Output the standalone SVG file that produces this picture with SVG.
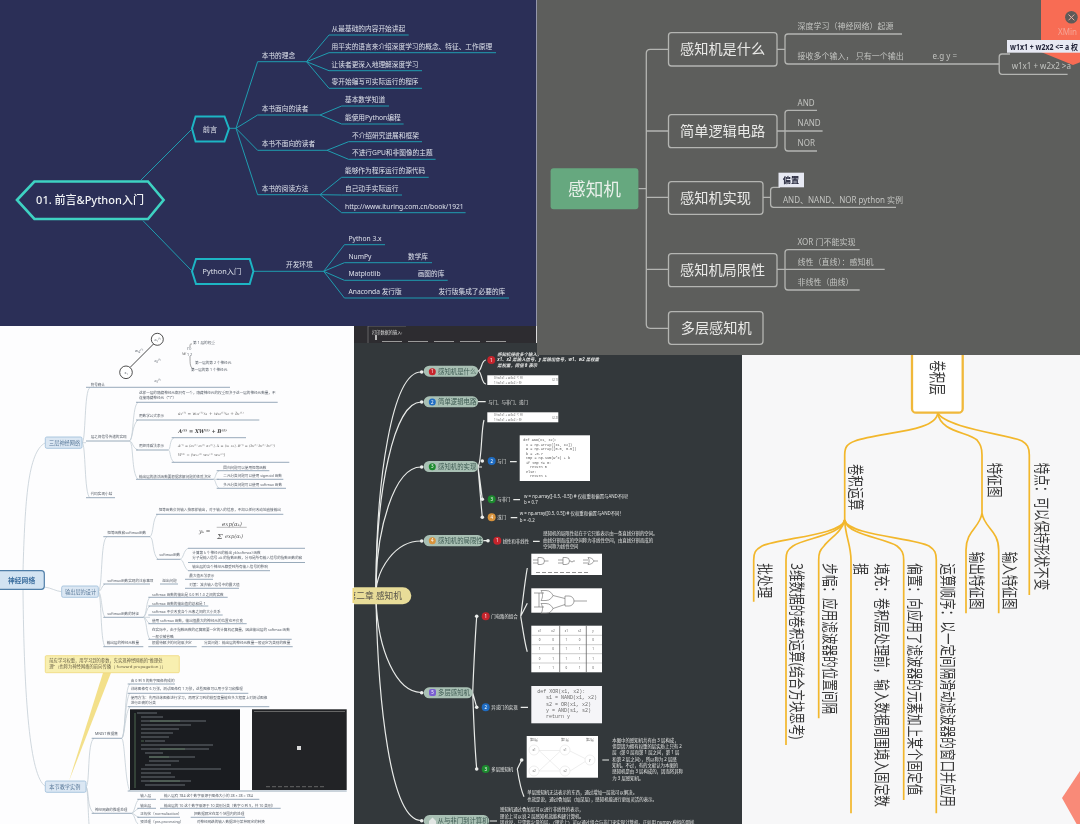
<svg xmlns="http://www.w3.org/2000/svg" width="1080" height="824" viewBox="0 0 1080 824">
<defs>
<filter id="soft" filterUnits="userSpaceOnUse" x="-6" y="-6" width="1092" height="836" color-interpolation-filters="sRGB"><feGaussianBlur stdDeviation="0.35"/></filter>
<style>
text{font-family:"Noto Sans","Noto Sans CJK SC",sans-serif}
.m{font-family:"Liberation Mono","Noto Sans CJK SC",monospace}
.sf{font-family:"DejaVu Serif","Noto Sans CJK SC",serif;font-style:italic}
.c1{fill:none;stroke:#1f9db0;stroke-width:1}
.t1{fill:#dde1ea;font-size:6.7px}
.hex{fill:#2b2f57;stroke:#1db5c4;stroke-width:2}
.c2{fill:none;stroke:#b4b5b2;stroke-width:1.3}
.box2{fill:#5d5e5c;stroke:#b4b5b2;stroke-width:1.3}
.t2h{fill:#e9e9e7;font-size:14.2px}
.t2{fill:#c3c4c1;font-size:8px}
.tag{fill:#e7e9f3}
.tagt{fill:#23253a;font-size:8.2px;font-weight:700}
.c3{fill:none;stroke:#c4ced6;stroke-width:.8}
.u3{fill:none;stroke:#7d94a8;stroke-width:.8}
.t3{fill:#555c66;font-size:3.6px}
.n3{fill:#dbe7f3;stroke:#a4c2dc;stroke-width:.9}
.t3h{fill:#5a7a9a;font-size:5.2px}
.c4{fill:none;stroke:#e9ebe9;stroke-width:1.2}
.dot{fill:#eceeec}
.pill{fill:#a9c0b4}
.t4h{fill:#3d5a52;font-size:6.4px}
.t4{fill:#e6e7e6;font-size:4.4px}
.no{fill:#fff;font-size:4.5px;text-anchor:middle}
.img{fill:#fff}
.gl{fill:none;stroke:#666;stroke-width:.6}
.c5{fill:none;stroke:#f2b72c;stroke-width:1.7}
.t5{fill:#3a3a3a;font-size:11.6px}
</style>
</defs>
<g id="all" filter="url(#soft)">
<g id="panel-perceptron-bg"><rect x="354" y="326" width="388" height="504" fill="#33383b"/><rect x="354" y="326" width="183" height="17" fill="#2d2c30"/><path d="M368 326V343M368 326H406" fill="none" stroke="#8a8a8a" stroke-width=".6"/><path d="M536.600 326V343" stroke="#eee" stroke-width="1"/><path d="M382 341.500H512" stroke="#9a9a9a" stroke-width="1" stroke-dasharray="20 6"/><path d="M376 335v5" stroke="#ddd" stroke-width="1.600"/><text x="372" y="334" fill="#ddd" font-size="4.200">打印数据的输入:</text></g>

<g id="p4-connectors">
<path class="c4" d="M376 590C376 480 392 372 421 372"/>
<path class="c4" d="M376 590C376 490 394 402 421 402"/>
<path class="c4" d="M376 590C376 530 394 467 421 467"/>
<path class="c4" d="M376 590C378 570 394 541 421 541"/>
<path class="c4" d="M376 600C378 650 396 692 421 692.500"/>
<path class="c4" d="M376 600C378 700 390 820 421 820.500"/>
<path class="c4" d="M478 371C482 371 481 360 486 360M478 371C482 371 481 384 486 384"/>
<path class="c4" d="M478 401.700H485.700M478 467C482 460 481 430 484 420M478 467H482M478 467C480 480 481 490 482.300 499M478 467C480 490 481 505 482.300 517"/>
<path class="c4" d="M510 461.700H516.700M513.300 499.700H520M510.700 517.700H517.300M483.300 540.700H488M533 541.300H539.700"/>
<path class="c4" d="M472.700 692.700C474 660 475 640 476.700 616.300M472.700 692.700L476.700 707.300M472.700 692.700C474 730 475 750 476.700 769"/>
<path class="c4" d="M520.700 616.300C523 600 525 580 527.300 568M520.700 616.300L527.300 603.300M520.700 616.300C523 630 525 645 527.300 651.700"/>
<path class="c4" d="M520.700 707.300H528M517.300 769L521.700 760M517.300 769C519 780 521 790 524 796.700M602.300 760H609M490 821H497"/>
</g>

<g id="n4-1"><rect class="pill" x="423.700" y="365.700" width="54.500" height="11" rx="5.500"/><circle cx="421.700" cy="372" r="1.800" class="dot"/><circle cx="432.300" cy="371.700" r="3.500" fill="#c6242c"/><text class="no" x="432.300" y="373.300">1</text><text class="t4h" x="438" y="373.600">感知机是什么</text></g>
<g id="n4-2"><rect class="pill" x="423.700" y="396.300" width="54.500" height="11" rx="5.500"/><circle cx="421.700" cy="402" r="1.800" class="dot"/><circle cx="432.300" cy="402" r="3.500" fill="#1f6cc2"/><text class="no" x="432.300" y="403.600">2</text><text class="t4h" x="438" y="404.200">简单逻辑电路</text></g>
<g id="n4-3"><rect class="pill" x="423.700" y="461" width="54.500" height="11" rx="5.500"/><circle cx="421.700" cy="467" r="1.800" class="dot"/><circle cx="432.300" cy="466.700" r="3.500" fill="#1c8a2e"/><text class="no" x="432.300" y="468.300">3</text><text class="t4h" x="438" y="468.900">感知机的实现</text></g>
<g id="n4-4"><rect class="pill" x="423.700" y="535" width="59.600" height="11.300" rx="5.600"/><circle cx="421.700" cy="541" r="1.800" class="dot"/><circle cx="432.300" cy="540.700" r="3.500" fill="#d8933c"/><text class="no" x="432.300" y="542.300">4</text><text class="t4h" x="438" y="543">感知机的局限性</text></g>
<g id="n4-5"><rect class="pill" x="423.700" y="687.300" width="49" height="11" rx="5.500"/><circle cx="421.700" cy="692.700" r="1.800" class="dot"/><rect x="429" y="689" width="7" height="7" rx="2" fill="#7a5fd0"/><text class="no" x="432.500" y="694">5</text><text class="t4h" x="438" y="695">多层感知机</text></g>
<g id="n4-6"><rect class="pill" x="423.700" y="815" width="65.600" height="11.700" rx="5.800"/><circle cx="421.700" cy="820.700" r="1.800" class="dot"/><path d="M429 821l3.500-3.500 3.500 3.500v3.500h-7z" fill="#e2e6e4"/><text class="t4h" x="437.500" y="822.800">从与非门到计算机</text></g>
<g id="n4-root"><rect x="340" y="587.300" width="71.300" height="17" rx="8.500" fill="#e8dc98"/><text x="402" y="599" text-anchor="end" fill="#55524a" font-size="8.700">第二章 感知机</text></g>

<g id="n4-1a"><circle cx="491.300" cy="360" r="4" fill="#c6242c"/><text class="no" x="491.300" y="361.600">1</text><text class="t4" font-style="italic" font-weight="700" x="497.300" y="355.700">感知机接收多个输入，</text><text class="t4" font-style="italic" font-weight="700" x="497.300" y="361.300">x1、x2 是输入信号，y 是输出信号，w1、w2 是权重</text><text class="t4" font-style="italic" font-weight="700" x="497.300" y="367">是权重，阈值 θ 表示</text></g>
<g id="n4-1b"><rect class="img" x="487.300" y="375.300" width="71" height="9.700"/><text x="494" y="379" font-size="3" fill="#666">0 (w1x1 + w2x2 ≤ θ)</text><text x="494" y="383.600" font-size="3" fill="#666">1 (w1x1 + w2x2 &gt; θ)</text><text x="552" y="381" font-size="3" fill="#666">(2.1)</text></g>
<g id="n4-2a"><text class="t4" x="488.300" y="403.500">与门、与非门、或门</text></g>
<g id="n4-3x"><rect class="img" x="487.300" y="412.300" width="71" height="10"/><text x="494" y="416.300" font-size="3" fill="#666">0 (w1x1 + w2x2 ≤ θ)</text><text x="494" y="420.800" font-size="3" fill="#666">1 (w1x1 + w2x2 &gt; θ)</text><text x="552" y="418.500" font-size="3" fill="#666">(2.2)</text></g>
<g id="n4-3a"><circle cx="482.300" cy="461" r="1.800" class="dot"/><circle cx="491.700" cy="461" r="4" fill="#1f6cc2"/><text class="no" x="491.700" y="462.600">2</text><text class="t4" x="497.300" y="463">与门</text></g>
<g id="n4-3b"><rect class="img" x="519.700" y="435.300" width="70.300" height="45.700"/><g fill="#555" font-size="3.500"><text class="m" x="523.300" y="441">def AND(x1, x2):</text><text class="m" x="526" y="445.600">x = np.array([x1, x2])</text><text class="m" x="526" y="450">w = np.array([0.5, 0.5])</text><text class="m" x="526" y="454.500">b = -0.7</text><text class="m" x="526" y="459">tmp = np.sum(w*x) + b</text><text class="m" x="526" y="463.500">if tmp &lt;= 0:</text><text class="m" x="530" y="468">return 0</text><text class="m" x="526" y="472.500">else:</text><text class="m" x="530" y="477">return 1</text></g></g>
<g id="n4-3c"><circle cx="482.300" cy="499.300" r="1.800" class="dot"/><circle cx="491.700" cy="499.300" r="4" fill="#1c8a2e"/><text class="no" x="491.700" y="500.900">3</text><text class="t4" x="497.300" y="501">与非门</text><text class="t4" x="524" y="497.700">w = np.array([-0.5, -0.5]) # 仅权重和偏置与AND不同！</text><text class="t4" x="524" y="503.700">b = 0.7</text></g>
<g id="n4-3d"><circle cx="482.300" cy="517.300" r="1.800" class="dot"/><circle cx="491.700" cy="517.300" r="4" fill="#d8933c"/><text class="no" x="491.700" y="518.900">4</text><text class="t4" x="497.300" y="519">或门</text><text class="t4" x="519.700" y="515">w = np.array([0.5, 0.5]) # 仅权重和偏置与AND不同！</text><text class="t4" x="519.700" y="521.700">b = -0.2</text></g>
<g id="n4-4a"><circle cx="488" cy="540.700" r="1.800" class="dot"/><circle cx="497.300" cy="540.700" r="4" fill="#c6242c"/><text class="no" x="497.300" y="542.300">1</text><text class="t4" x="502.700" y="542.500">线性和非线性</text><text class="t4" x="543.300" y="535">感知机的局限性就在于它只能表示由一条直线分割的空间。</text><text class="t4" x="543.300" y="541.500">曲线分割而成的空间称为非线性空间，由直线分割而成的</text><text class="t4" x="543.300" y="548">空间称为线性空间</text></g>
<g id="n4-5a"><circle cx="476.700" cy="616.300" r="1.800" class="dot"/><circle cx="485.700" cy="616.300" r="4" fill="#c6242c"/><text class="no" x="485.700" y="617.900">1</text><text class="t4" x="491.300" y="617.800">门电路的组合</text></g>
<g id="n4-5a1"><rect class="img" x="531.300" y="553.700" width="70.700" height="21.300"/><path class="gl" d="M533 560h5m-5 3h5M538 557.500h3a3.500 3.500 0 0 1 0 7h-3zM544.500 561h4M558 560h5m-5 3h5M563 557.500h3a3.500 3.500 0 0 1 0 7h-3zM569.500 561h1.500a1 1 0 0 0 2 0h2M583 560h5m-5 3h5M588 557.500c3 0 5 1.500 6 3.500-1 2-3 3.500-6 3.500 1.500-2 1.500-5 0-7zM594 561h4"/><path d="M536 572.500H590" stroke="#777" stroke-width=".8" stroke-dasharray="4 2"/></g>
<g id="n4-5a2"><rect class="img" x="531.300" y="588.300" width="70.700" height="24.400"/><path class="gl" d="M534 593h10m-10 14h10M539 593v14M541 590.500h5c4 0 6 3 7 5-1 2-3 5-7 5h-5c2-3 2-7 0-10zM541 603.500h5c4 0 6 3 7 5-1 2-3 5-7 5h-5c2-3 2-7 0-10zM553 595.500l12 3M553 608.500l12-4"/><path class="gl" d="M565 596h4a5 5 0 0 1 0 10h-4zM574 601h13"/></g>
<g id="n4-5a3"><rect class="img" x="531.300" y="625.700" width="70.700" height="46.600"/><path d="M531.300 635.300H602M531.300 644.700H602M531.300 653.700H602M531.300 663H602" stroke="#999" stroke-width=".5"/><path d="M559.700 625.700V672.300M586.300 625.700V672.300" stroke="#666" stroke-width=".8"/><g font-size="3" fill="#555" text-anchor="middle"><text x="539.700" y="632">x1</text><text x="553" y="632">x2</text><text x="566.300" y="632">s1</text><text x="579.700" y="632">s2</text><text x="593" y="632">y</text><text x="539.700" y="641">0</text><text x="553" y="641">0</text><text x="566.300" y="641">1</text><text x="579.700" y="641">0</text><text x="593" y="641">0</text><text x="539.700" y="650">1</text><text x="553" y="650">0</text><text x="566.300" y="650">1</text><text x="579.700" y="650">1</text><text x="593" y="650">1</text><text x="539.700" y="659.500">0</text><text x="553" y="659.500">1</text><text x="566.300" y="659.500">1</text><text x="579.700" y="659.500">1</text><text x="593" y="659.500">1</text><text x="539.700" y="669">1</text><text x="553" y="669">1</text><text x="566.300" y="669">0</text><text x="579.700" y="669">1</text><text x="593" y="669">0</text></g></g>
<g id="n4-5b"><circle cx="476.700" cy="707.300" r="1.800" class="dot"/><circle cx="485.700" cy="707.300" r="4" fill="#1f6cc2"/><text class="no" x="485.700" y="708.900">2</text><text class="t4" x="491.300" y="708.800">异或门的实现</text></g>
<g id="n4-5b1"><rect x="531.300" y="686" width="70.700" height="37.300" fill="#f5f5f8"/><g font-size="5" fill="#6a6a6a"><text class="m" x="537.300" y="693">def XOR(x1, x2):</text><text class="m" x="546" y="699">s1 = NAND(x1, x2)</text><text class="m" x="546" y="705.500">s2 = OR(x1, x2)</text><text class="m" x="546" y="711.500">y = AND(s1, s2)</text><text class="m" x="546" y="717.700">return y</text></g></g>
<g id="n4-5c"><circle cx="476.700" cy="769" r="1.800" class="dot"/><circle cx="485.700" cy="769" r="4" fill="#1c8a2e"/><text class="no" x="485.700" y="770.600">3</text><text class="t4" x="491.300" y="770.500">多层感知机</text><circle cx="521.700" cy="760" r="1.800" class="dot"/></g>
<g id="n4-5c1"><rect class="img" x="526.700" y="736" width="71.300" height="41.700"/><path d="M539 750.500h21M539 771h21M539 750.500L561 771M539 771L561 750.500M570 751L586 759M570 771L586 761" stroke="#ddd" stroke-width=".5"/><g fill="#fff" stroke="#ddd" stroke-width=".5"><circle cx="534" cy="750" r="5"/><circle cx="565" cy="750" r="5"/><circle cx="590" cy="760" r="5"/><circle cx="534" cy="771" r="5"/><circle cx="565" cy="771" r="5"/></g><g font-size="3" fill="#666"><text x="530" y="741">第0层</text><text x="561" y="741">第1层</text><text x="586" y="741">第2层</text><text x="532.500" y="751">x1</text><text x="563.500" y="751">s1</text><text x="589" y="761">y</text><text x="532.500" y="772">x2</text><text x="563.500" y="772">s2</text></g></g>
<g id="n4-5c2"><text class="t4" x="612.300" y="741.700">本图中的感知机共有由 3 层构成，</text><text class="t4" x="612.300" y="748.300">但是因为拥有权重的层实质上只有 2</text><text class="t4" x="612.300" y="754.300">层（第 0 层和第 1 层之间，第 1 层</text><text class="t4" x="612.300" y="761">和第 2 层之间），所以称为 2 层感</text><text class="t4" x="612.300" y="766.700">知机。不过，有的文献认为本图的</text><text class="t4" x="612.300" y="773.300">感知机是由 3 层构成的，因而将其称</text><text class="t4" x="612.300" y="780">为 3 层感知机。</text></g>
<g id="n4-5c3"><text class="t4" x="527.300" y="794">单层感知机无法表示的东西，通过增加一层就可以解决。</text><text class="t4" x="527.300" y="800.700">也就是说，通过叠加层（加深层），感知机能进行更加灵活的表示。</text></g>
<g id="n4-6a"><text class="t4" x="500" y="811.300">感知机通过叠加层可以进行非线性的表示，</text><text class="t4" x="500" y="818">理论上可以说 2 层感知机就能构建计算机。</text><text class="t4" x="500" y="824">因此说，只需要少量的层，（理论上）可以通过组合与非门来实现计算机，正如用 numpy 模拟的那样</text></g>

<g id="panel-nn-bg"><rect x="-6" y="326" width="360" height="504" fill="#fdfdfe"/><rect x="352.500" y="588" width="1.500" height="15" fill="#f0d878"/></g>
<g id="p3-connectors">
<path class="c3" d="M23 571C25 500 28 452 45 443M23 589C24 700 30 776 45 786M44.300 587C52 588 55 591 61.700 591.700"/>
<path class="c3" d="M82 442.700C86 442 84 390 90 387.500M82 442.700H86M82 442.700C86 443 84 495 90 497.700M98 591.700C103 590 100 540 107 536.700M98 591.700C102 591 101 586 105 584M98 591.700C102 592 101 612 105 617.300M98 591.700C102 594 100 640 105 646.700"/>
<path class="c3" d="M129.300 441C134 440 132 406 138 402.300M129.300 441C133 440 132 424 138 420M129.300 441C133 441 132 448 138 450M129.300 441C134 442 131 473 138 479.300M168 450C171 450 169 440 174 437.700M168 450C171 450 169 458 174 462.300M213.300 479.300C216 478 215 473 219 470.700M213.300 479.300H219M213.300 479.300C216 480 215 485 219 488.300"/>
<path class="c3" d="M150 536.700C154 534 152 518 158 514.300M150 536.700C154 538 152 554 158 559.300M180 559.300C184 558 183 551 188 548.300M180 559.300C184 560 183 566 188 570.700M143.300 617.300C147 615 146 600 150 597.300M143.300 617.300C147 615 146 608 150 606M143.300 617.300H150M143.300 617.300C147 618 146 622 150 623.700M143.300 617.300C147 619 146 635 150 639.300"/>
<path class="c3" d="M86 786.700C90 786 87 742 94 738.300M86 786.700C89 788 87 810 94 813.300M86 786.700C88 790 88 810 89 824M121.700 738.300C126 737 124 688 130 684M121.700 738.300C125 736 125 698 130 693.300M121.700 738.300C125 736 125 712 130 706.700M121.700 738.300C125 740 125 784 130 791M131.700 813.300C135 812 135 802 139 799.300M131.700 813.300C135 812 135 810 139 808.300M131.700 813.300C135 814 135 816 139 817.300M131.700 813.300C135 815 135 822 138 824"/>
<path class="u3" d="M86 387.300H230M86 441H129.300M86 497.700H115M103.300 536.700H150M103.300 584H150M160 584H178M185 579.300H213M185 588.300H239M103.300 617.300H143.300M103.300 646.700H143.300M148.300 646.700H196.700M201.700 646.700H292.700"/>
<path class="u3" d="M136 402.300H277.700M136 420H259.300M136 450H168M171.700 437.700H246M171.700 462.300H289.300M136 479.300H213.300M216.700 470.700H269.300M216.700 479.300H283.300M216.700 488.300H286"/>
<path class="u3" d="M156 514.300H283.300M156.700 559.300H180M188 548.300H305M188 562.500H305M188 570.700H270M148.300 597.300H227.700M148.300 606H208.300M148.300 615H222.700M148.300 623.700H246.700M148.300 639.300H291.700"/>
<path class="u3" d="M91.700 738.300H121.700M91.700 813.300H131.700M127.700 684H175M127.700 693.300H248.300M127.700 706.700H269.300M127.700 791H346.700M137.300 799.300H156M160 799.300H259.300M137.300 808.300H156M160 808.300H280.700M137.300 817.300H180M190.700 817.300H245"/>
</g>
<g id="n3-root"><rect x="-6" y="570.700" width="50.300" height="18.600" rx="3" fill="#d2e3f2" stroke="#4f7ea8" stroke-width="1.200"/><text x="8" y="583" fill="#3d6f9f" font-size="6.800" font-weight="700">神经网络</text></g>
<g id="n3-a"><rect class="n3" x="45.300" y="437" width="36.700" height="11.300" rx="1.500"/><text class="t3h" x="49" y="445">三层神经网络</text></g>
<g id="n3-b"><rect class="n3" x="61.700" y="586" width="36.600" height="11.300" rx="1.500"/><text class="t3h" x="65" y="594">输出层的设计</text></g>
<g id="n3-c"><rect class="n3" x="45.300" y="781" width="40.700" height="11.300" rx="1.500"/><text class="t3h" x="49.300" y="789">本节教学实例</text></g>
<g id="n3-fig"><path d="M130 367.500L153.500 344" stroke="#333" stroke-width=".9"/><circle cx="126" cy="372.300" r="6.300" fill="#fff" stroke="#222" stroke-width=".8"/><circle cx="157.300" cy="339.300" r="6" fill="#fff" stroke="#222" stroke-width=".8"/><text class="t3" font-size="3" x="124.500" y="373.500">x₁</text><text class="t3" font-size="3" x="154.500" y="340.500">a₁⁽¹⁾</text><text class="t3" font-size="3.500" x="135" y="351.500">w₁₂⁽¹⁾</text><text class="t3" font-size="3" fill="#bbb" x="154.500" y="362">a₂⁽¹⁾</text><text class="t3" font-size="3" fill="#bbb" x="154.500" y="382">a₃⁽¹⁾</text><path class="gl" d="M190 347c0-3 0-3 2-3M190 356c0 8 0 12 4 13" stroke-width=".4"/><text class="sf" x="182" y="355" font-size="5" fill="#555">w</text><text class="t3" font-size="3" x="187" y="350">(1)</text><text class="t3" font-size="3" x="187" y="356">1 2</text><text class="t3" font-size="3.300" x="193" y="344">第 1 层的权重</text><text class="t3" font-size="3.300" x="195" y="364">第一层的第 2 个神经元</text><text class="t3" font-size="3.300" x="191" y="370.500">第一层的第 1 个神经元</text></g>
<g id="n3-a1"><text class="t3" font-size="4.200" x="90.700" y="385.700">符号确认</text></g>
<g id="n3-a2"><text class="t3" font-size="4" x="90.700" y="438.300">层之间信号传递的实现</text></g>
<g id="n3-a3"><text class="t3" font-size="4" x="90.700" y="495.300">代码实现小结</text></g>
<g id="n3-a2a"><text class="t3" x="139" y="393.700">这样一层的隐藏神经元都只有一个，隐藏神经元的权重取决于这一层的神经元数量，不</text><text class="t3" x="139" y="398.700">连接隐藏神经元（“1”）</text></g>
<g id="n3-a2b"><text class="t3" x="139" y="416.700">用数学公式表示</text><text class="sf" x="178" y="414.700" font-size="4.300" fill="#666">a₁⁽¹⁾ = w₁₁⁽¹⁾x₁ + w₁₂⁽¹⁾x₂ + b₁⁽¹⁾</text></g>
<g id="n3-a2c"><text class="t3" x="139" y="447">用矩阵乘法表示</text><text class="sf" x="178.300" y="433.300" font-size="5" font-weight="700" fill="#444">A⁽¹⁾ = XW⁽¹⁾ + B⁽¹⁾</text><text class="sf" x="178" y="446.700" font-size="3.600" fill="#666">A⁽¹⁾ = (a₁⁽¹⁾ a₂⁽¹⁾ a₃⁽¹⁾), X = (x₁ x₂), B⁽¹⁾ = (b₁⁽¹⁾ b₂⁽¹⁾ b₃⁽¹⁾)</text><text class="sf" x="178" y="455.700" font-size="3.800" fill="#666">W⁽¹⁾ = (w₁₁⁽¹⁾ w₂₁⁽¹⁾ w₃₁⁽¹⁾)</text></g>
<g id="n3-a2d"><text class="t3" x="139" y="477.700">输出层的激活函数要根据求解问题的性质决定</text></g>
<g id="n3-a2d1"><text class="t3" x="223.300" y="468.700">回归问题可以使用恒等函数</text></g>
<g id="n3-a2d2"><text class="t3" x="223.300" y="477">二元分类问题可以使用 sigmoid 函数</text></g>
<g id="n3-a2d3"><text class="t3" x="223.300" y="486">多元分类问题可以使用 softmax 函数</text></g>
<g id="n3-b1"><text class="t3" x="107.300" y="534">恒等函数和softmax函数</text></g>
<g id="n3-b1a"><text class="t3" x="158.700" y="511">恒等函数会将输入按原样输出，对于输入的信息，不加以任何改动地直接输出</text></g>
<g id="n3-b1f"><text class="sf" x="199" y="533" font-size="5.500" fill="#555">yₖ =</text><path d="M216.700 527.300H246.700" stroke="#555" stroke-width=".4"/><text class="sf" x="232" y="525.500" text-anchor="middle" font-size="5.500" fill="#555">exp(αₖ)</text><text class="sf" x="217" y="539" font-size="8" fill="#555">Σ</text><text class="sf" x="225" y="538" font-size="5.200" fill="#555">exp(αᵢ)</text></g>
<g id="n3-b1b"><text class="t3" x="159.300" y="556.300">softmax函数</text></g>
<g id="n3-b1b1"><text class="t3" x="192.300" y="553.700">计算第 k 个神经元的输出 yk(softmax) 函数</text><text class="t3" x="192.300" y="559">分子是输入信号 ak 的指数函数，分母是所有输入信号的指数函数的和</text></g>
<g id="n3-b1b2"><text class="t3" x="192.300" y="567.500">输出层的各个神经元都受到所有输入信号的影响</text></g>
<g id="n3-b2"><text class="t3" x="107.300" y="582">softmax函数实现的注意事项</text><text class="t3" x="162.300" y="581.700">溢出问题</text><text class="t3" x="189.300" y="577">最大值无法表示</text><text class="t3" x="189.300" y="585.800">对策：减去输入信号中的最大值</text></g>
<g id="n3-b3"><text class="t3" x="107.300" y="614.500">softmax函数的特征</text><text class="t3" x="152" y="595.500">softmax 函数的输出是 0.0 到 1.0 之间的实数</text><text class="t3" x="152" y="604.500">softmax 函数的输出值的总和是 1</text><text class="t3" x="152" y="613">softmax 不会改变各个元素之间的大小关系</text><text class="t3" x="152" y="622">使用 softmax 函数，输出值最大的神经元的位置也不会变</text><text class="t3" x="152" y="631">在实际中，由于指数函数的运算需要一定的计算机运算量，因此输出层的 softmax 函数</text><text class="t3" x="152" y="637.500">一般会被省略</text></g>
<g id="n3-b4"><text class="t3" x="106.700" y="644">输出层的神经元数量</text><text class="t3" x="152" y="644">根据待解决的问题来决定</text><text class="t3" x="204" y="644">分类问题：输出层的神经元数量一般设定为类别的数量</text></g>
<g id="n3-note"><path d="M103 672.700H111L69 781z" fill="#f3e08a"/><rect x="45.300" y="655.700" width="134" height="17" rx="1" fill="#f8efb0" stroke="#efd878" stroke-width=".8"/><text x="49.300" y="662" font-size="4.300" fill="#6a6248">前应学习权重，用学习到的参数，先实现神经网络的“推理处</text><text x="49.300" y="668.300" font-size="4.300" fill="#6a6248">理”（也称为神经网络的前向传播（ forward propagation ））</text></g>
<g id="n3-c1"><text class="t3" font-size="3.800" x="95" y="735">MNIST 数据集</text><text class="t3" x="130.700" y="681.700">由 0 到 9 的数字图像构成的</text><text class="t3" x="130.700" y="690.300">训练图像有 6 万张，测试图像有 1 万张，这些图像可以用于学习和推理</text><text class="t3" x="130.700" y="699.300">使用方法：先用训练图像进行学习，再用学习到的模型度量能在多大程度上对测试图像</text><text class="t3" x="130.700" y="704.300">进行正确的分类</text></g>
<g id="n3-c1i1"><rect x="130" y="709.300" width="110" height="80.700" fill="#1a1c20"/><path d="M137 713h20M141 717h22M141 721h65M141 725h50M141 729h38M141 733h32M141 737h28M145 741h20M141 745h72M141 749h68M145 753h18M149 757h46M149 761h30M145 765h26M141 769h80M141 773h30M141 777h34M141 781h50M145 785h40" stroke="#8a8f98" stroke-width=".7" fill="none"/><path d="M141 741h3M135 713v75M150 721h30M160 749h25M149 757h20M150 781h30" stroke="#6f9a70" stroke-width=".6" fill="none"/></g>
<g id="n3-c1i2"><rect x="252" y="709.300" width="94.700" height="80.700" fill="#222326"/><path d="M254 711.500H345M266 786.700h4M272 786.700h4M278 786.700h4M284 786.700h4M290 786.700h4M296 786.700h4M302 786.700h4M308 786.700h4M314 786.700h4M320 786.700h4" stroke="#666" stroke-width="1" fill="none"/><path d="M297 746h4v4h-4z" fill="#d9d9d9"/></g>
<g id="n3-c2"><text class="t3" font-size="3.800" x="95" y="810.700">神经网络的推理处理</text><text class="t3" x="140.300" y="797.300">输入层</text><text class="t3" x="164" y="797.300">输入层有 784 这个数字来源于图像大小的 28 × 28 = 784</text><text class="t3" x="140.300" y="806.500">输出层</text><text class="t3" x="164" y="806.500">输出层的 10 这个数字来源于 10 类别分类（数字 0 到 9，共 10 类别）</text><text class="t3" x="140.300" y="815">正规化（normalization）</text><text class="t3" x="194" y="815">把数据限定在某个范围内的处理</text><text class="t3" x="140.300" y="823.300">预处理（pre-processing）</text><text class="t3" x="196.700" y="823">对神经网络的输入数据进行某种既定的转换</text></g>

<g id="panel-cnn-bg"><rect x="742" y="355" width="344" height="475" fill="#f7f7f8"/><polygon points="1062,798 1086,762 1086,830 1080,830" fill="#f98a78"/></g>
<g id="p5-connectors">
<path class="c5" d="M937.700 412.700C937 432 880 432 855 441C847 444 844.700 447 844.700 455V520"/>
<path class="c5" d="M937.700 412.700C940 432 968 432 977 440C980 444 982 447 982 455V513"/>
<path class="c5" d="M937.700 412.700C945 428 1010 435 1022 441C1027 444 1029.300 447 1029.300 455V595"/>
<path class="c5" d="M982 513C980 528 966 530 966 550V613.300M982 513C984 528 998.700 530 998.700 550V613.300"/>
<path class="c5" d="M844.700 520C842 535 780 538 762 546C755 550 753.700 553 753.700 560V601.700"/>
<path class="c5" d="M844.700 520C842 535 805 538 793 546C787 550 786 553 786 560V745"/>
<path class="c5" d="M844.700 520C842 532 830 538 824 546C820 550 818.700 553 818.700 560V718.300"/>
<path class="c5" d="M844.700 520C845 535 851 545 851 560V813.300"/>
<path class="c5" d="M844.700 520C847 535 885 538 897 546C902 550 903.700 553 903.700 560V800"/>
<path class="c5" d="M844.700 520C847 535 915 538 929 546C935 550 936.300 553 936.300 560V813.300"/>
</g>
<g id="n5-root"><rect x="912" y="340" width="50.700" height="72.700" rx="4" fill="#fff" stroke="#f0b83a" stroke-width="2.300"/><text class="t5" font-size="13" text-anchor="end" transform="translate(931 395) rotate(90) scale(1 1.450)">卷积层</text></g>
<g id="n5-a"><text class="t5" font-size="10.900" transform="translate(850 464) rotate(90) scale(1 1.400)">卷积运算</text></g>
<g id="n5-b"><text class="t5" font-size="11" transform="translate(989 462.700) rotate(90) scale(1 1.400)">特征图</text></g>
<g id="n5-c"><text class="t5" font-size="11.500" transform="translate(1036 462.700) rotate(90) scale(1 1.400)">特点：可以保持形状不变</text></g>
<g id="n5-b1"><text class="t5" font-size="11.100" transform="translate(971 551.700) rotate(90) scale(1 1.400)">输出特征图</text></g>
<g id="n5-b2"><text class="t5" font-size="11.100" transform="translate(1003.700 551.700) rotate(90) scale(1 1.400)">输入特征图</text></g>
<g id="n5-a1"><text class="t5" font-size="11" transform="translate(758.700 563.300) rotate(90) scale(1 1.400)">批处理</text></g>
<g id="n5-a2"><text class="t5" font-size="11.400" transform="translate(791 563.300) rotate(90) scale(1 1.400)">3维数据的卷积运算(结合方块思考)</text></g>
<g id="n5-a3"><text class="t5" font-size="11.500" transform="translate(823.700 563.300) rotate(90) scale(1 1.400)">步幅：应用滤波器的位置间隔</text></g>
<g id="n5-a4"><text class="t5" transform="translate(876 563.300) rotate(90) scale(1 1.400)">填充：卷积层处理前，输入数据周围填入固定数</text><text class="t5" transform="translate(855.300 563.300) rotate(90) scale(1 1.400)">据</text></g>
<g id="n5-a5"><text class="t5" transform="translate(908.700 563.300) rotate(90) scale(1 1.400)">偏置：向应用了滤波器的元素加上某个固定值</text></g>
<g id="n5-a6"><text class="t5" transform="translate(941.700 563.300) rotate(90) scale(1 1.400)">运算顺序：以一定间隔滑动滤波器的窗口并应用</text></g>

<g id="panel-python"><rect x="-6" y="-6" width="542.500" height="332" fill="#2b2f57"/>
<g id="p1-connectors">
<path class="c1" d="M141 180L191 130M143 220.700L191 270M229 128.300H236L257.600 61.700H306.500M236 128.300L257.600 115H320M236 128.300L257.600 150.300H327M236 128.300L257.600 194.700H320"/>
<path class="c1" d="M306.500 61.700L329 35H408.700M306.500 61.700L329 52.700H496M306.500 61.700L329 70.700H422M306.500 61.700L329 88.300H422M320 115L341.600 106H389M320 115L341.600 124H403.600M327 150.300L348.500 141.700H422M327 150.300L348.500 159.300H435.600M320 194.700L341.600 177.300H428.700M320 194.700L341.600 195H402M320 194.700L341.600 212.700H465.600"/>
<path class="c1" d="M253.400 271.300H323.700L344.400 244.700H385M323.700 271.300L344.400 262.700H432M323.700 271.300L344.400 280.300H447.700M323.700 271.300L344.400 298H509"/>
</g>
<g id="n1-root"><polygon points="17,200 34.400,181.500 148,181.500 163.600,200 148,219 34.400,219" fill="#2b2f57" stroke="#3ed2c2" stroke-width="2.600"/><text x="90" y="204" text-anchor="middle" fill="#f2f4f6" font-size="11" font-weight="500">01. 前言&amp;Python入门</text></g>
<g id="n1-a"><polygon class="hex" points="192,128.500 195.600,116.500 224.500,116.500 229,128.500 224.500,141.500 195.600,141.500"/><text x="210" y="131.500" text-anchor="middle" fill="#dde1ea" font-size="7.300">前言</text></g>
<g id="n1-b"><polygon class="hex" points="192,271.300 196,259 249.700,259 253.400,271.300 249.700,284 196,284"/><text x="222" y="274" text-anchor="middle" fill="#dde1ea" font-size="7.300">Python入门</text></g>
<g id="n1-a1"><text class="t1" x="261.700" y="57.500">本书的理念</text></g>
<g id="n1-a11"><text class="t1" x="331.600" y="31">从最基础的内容开始讲起</text></g>
<g id="n1-a12"><text class="t1" x="331.600" y="48.700">用平实的语言来介绍深度学习的概念、特征、工作原理</text></g>
<g id="n1-a13"><text class="t1" x="331.600" y="66.500">让读者更深入地理解深度学习</text></g>
<g id="n1-a14"><text class="t1" x="331.600" y="84">零开始编写可实际运行的程序</text></g>
<g id="n1-a2"><text class="t1" x="261.700" y="110.600">本书面向的读者</text></g>
<g id="n1-a21"><text class="t1" x="345" y="102">基本数学知道</text></g>
<g id="n1-a22"><text class="t1" x="345" y="120">能使用Python编程</text></g>
<g id="n1-a3"><text class="t1" x="261.700" y="146">本书不面向的读者</text></g>
<g id="n1-a31"><text class="t1" x="352" y="137.700">不介绍研究进展和框架</text></g>
<g id="n1-a32"><text class="t1" x="352" y="155">不进行GPU和非图像的主题</text></g>
<g id="n1-a4"><text class="t1" x="261.700" y="190.500">本书的阅读方法</text></g>
<g id="n1-a41"><text class="t1" x="345" y="173">能够作为程序运行的源代码</text></g>
<g id="n1-a42"><text class="t1" x="345" y="191">自己动手实际运行</text></g>
<g id="n1-a43"><text class="t1" x="345" y="208.600">http://www.ituring.com.cn/book/1921</text></g>
<g id="n1-b1"><text class="t1" x="286" y="267">开发环境</text></g>
<g id="n1-b11"><text class="t1" x="348.500" y="241">Python 3.x</text></g>
<g id="n1-b12"><text class="t1" x="348.500" y="258.700">NumPy</text><text class="t1" x="408" y="258.700">数学库</text></g>
<g id="n1-b13"><text class="t1" x="348.500" y="276">Matplotlib</text><text class="t1" x="417.700" y="276">画图的库</text></g>
<g id="n1-b14"><text class="t1" x="348.500" y="294">Anaconda 发行版</text><text class="t1" x="438.400" y="294">发行版集成了必要的库</text></g>
</g>

<g id="panel-perceptron"><rect x="537" y="-6" width="549" height="361" fill="#5d5e5c"/>
<g id="p2-ribbon"><polygon points="1041,-6 1086,-6 1086,60 1073,65 1041,52" fill="#f86c54"/><circle cx="1071.400" cy="17.300" r="6.300" fill="#5f5a58"/><path d="M1068.500 14.500l5.800 5.800m0-5.800l-5.800 5.800" stroke="#e8b0a6" stroke-width="1"/><text x="1058" y="35" font-size="8" fill="#f6a596">XMin</text></g>
<g id="p2-connectors">
<path class="c2" d="M638.400 188.700H646.300M668.500 49.300H650.300Q646.300 49.300 646.300 53.300V324.300Q646.300 328.300 650.300 328.300H668.500M646.300 131H668.500M646.300 197.300H668.500M646.300 269.300H668.500"/>
<path class="c2" d="M777 49.300H785M902 34H788Q785 34 785 37V61Q785 64 788 64H999.200M999.200 64V57Q999.200 54 1002 54H1010M999.200 64V71.300Q999.200 74.300 1002 74.300H1067.600"/>
<path class="c2" d="M777 131H822.600M817 110.300H788Q785 110.300 785 113.300V148Q785 151 788 151H817"/>
<path class="c2" d="M763 197.300H770.600M780 187.300H773.600Q770.600 187.300 770.600 190.300V204.300Q770.600 207.300 773.600 207.300H896"/>
<path class="c2" d="M777 269.300H884.700M859.700 249.700H788Q785 249.700 785 252.700V287Q785 290 788 290H859.700"/>
</g>
<g id="n2-root"><rect x="550.600" y="168.300" width="87.800" height="41" rx="3" fill="#66a87f"/><text x="594.500" y="195.500" text-anchor="middle" fill="#e8f0ea" font-size="17.700">感知机</text></g>
<g id="n2-1"><rect class="box2" x="668.500" y="32.700" width="108.500" height="33.300" rx="3"/><text class="t2h" x="680" y="54.300">感知机是什么</text></g>
<g id="n2-2"><rect class="box2" x="668.500" y="114.700" width="108.500" height="33" rx="3"/><text class="t2h" x="680" y="136">简单逻辑电路</text></g>
<g id="n2-3"><rect class="box2" x="668.500" y="181.700" width="94.500" height="32.600" rx="3"/><text class="t2h" x="680" y="202.800">感知机实现</text></g>
<g id="n2-4"><rect class="box2" x="668.500" y="253.700" width="108.500" height="33" rx="3"/><text class="t2h" x="680" y="275">感知机局限性</text></g>
<g id="n2-5"><rect class="box2" x="668.500" y="311.700" width="94.500" height="32.600" rx="3"/><text class="t2h" x="680.700" y="333">多层感知机</text></g>
<g id="n2-1a"><text class="t2" x="797.600" y="29.300">深度学习（神经网络）起源</text></g>
<g id="n2-1b"><text class="t2" x="797.600" y="59.300">接收多个输入， 只有一个输出</text><text class="t2" font-size="7" x="932.600" y="59">e.g y =</text></g>
<g id="n2-1c"><text class="t2" font-size="6.800" x="1011.700" y="69.300">w1x1 + w2x2 &gt;a</text></g>
<g id="n2-1t"><rect class="tag" x="1007" y="40" width="79" height="12.700"/><text class="tagt" x="1010" y="50" textLength="68" lengthAdjust="spacingAndGlyphs">w1x1 + w2x2 &lt;= a 权</text></g>
<g id="n2-2a"><text class="t2" font-size="6.800" x="797.600" y="105.500">AND</text></g>
<g id="n2-2b"><text class="t2" font-size="6.800" x="797.600" y="125.500">NAND</text></g>
<g id="n2-2c"><text class="t2" font-size="6.800" x="797.600" y="146">NOR</text></g>
<g id="n2-3a"><text class="t2" font-size="6.900" x="783" y="202.800">AND、NAND、NOR python 实例</text></g>
<g id="n2-3t"><rect class="tag" x="778.500" y="172.700" width="25.500" height="14.600"/><text class="tagt" x="791" y="183" text-anchor="middle">偏置</text></g>
<g id="n2-4a"><text class="t2" x="797.600" y="244.700">XOR 门不能实现</text></g>
<g id="n2-4b"><text class="t2" x="797.600" y="265">线性（直线）：感知机</text></g>
<g id="n2-4c"><text class="t2" x="797.600" y="285">非线性（曲线）</text></g>
</g>
</g>
</svg>
